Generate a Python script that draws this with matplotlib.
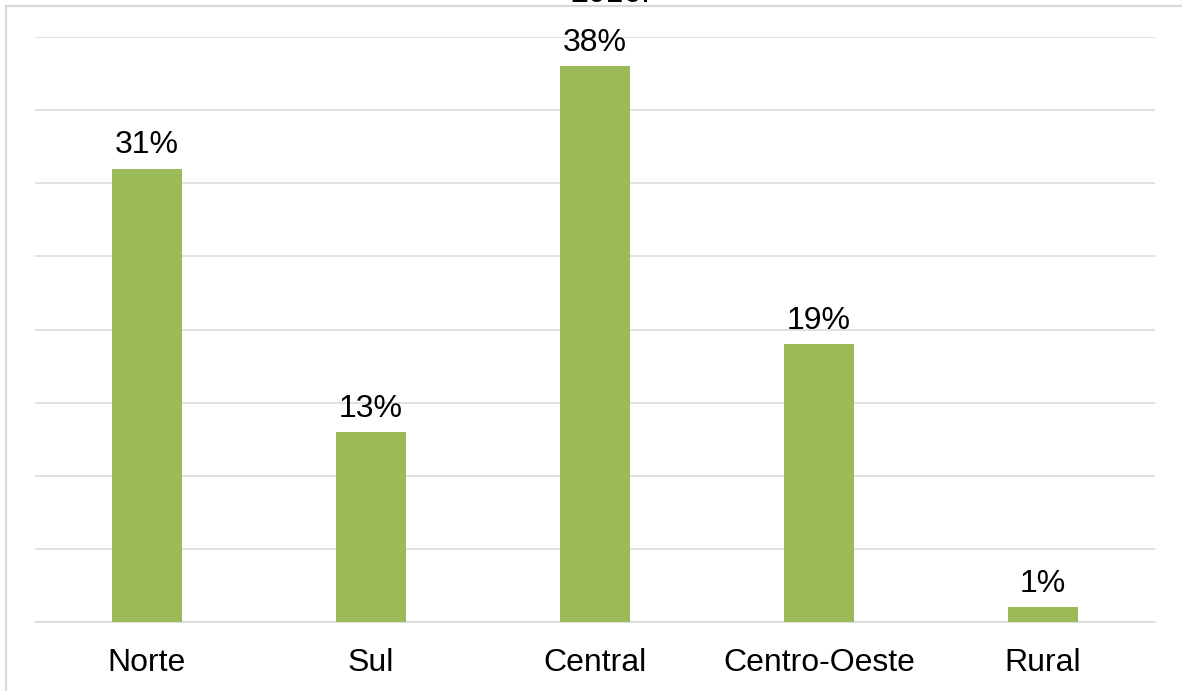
import matplotlib.pyplot as plt
from matplotlib.lines import Line2D

# Distribuição por região
regioes = ["Norte", "Sul", "Central", "Centro-Oeste", "Rural"]
percentuais = [31, 13, 38, 19, 1]
rotulos = ["31%", "13%", "38%", "19%", "1%"]

plt.rcParams['font.family'] = ['Liberation Sans', 'DejaVu Sans']

fig = plt.figure(figsize=(11.82, 6.91), dpi=100)
ax = fig.add_axes([35 / 1182, 1 - 622 / 691, 1120 / 1182, 585 / 691])

x = range(len(regioes))
ax.bar(x, percentuais, width=0.3125, color="#9BBB59", zorder=3)

for xi, v, r in zip(x, percentuais, rotulos):
    ax.annotate(r, (xi, v), xytext=(0, 11), textcoords="offset points",
                ha="center", va="baseline", fontsize=23, color="black")

ax.set_xlim(-0.5, len(regioes) - 0.5)
ax.set_ylim(0, 40)
ax.set_yticks(range(0, 41, 5))
ax.set_yticklabels([])
ax.tick_params(axis="y", length=0)
ax.grid(axis="y", color="#d9d9d9", linewidth=1.1, zorder=0)

ax.set_xticks(list(x))
ax.set_xticklabels(regioes, fontsize=23)
ax.tick_params(axis="x", length=0, pad=19)

for s in ["top", "right", "left"]:
    ax.spines[s].set_visible(False)
ax.spines["bottom"].set_color("#d9d9d9")
ax.spines["bottom"].set_linewidth(1.1)

# moldura do gráfico (recortada)
fig.add_artist(Line2D([6 / 1182, 6 / 1182], [0, 1 - 6 / 691], color="#d9d9d9", linewidth=1.6))
fig.add_artist(Line2D([6 / 1182, 1], [1 - 6 / 691, 1 - 6 / 691], color="#d9d9d9", linewidth=1.6))

# última linha do título
fig.text(610 / 1182, 1 - 2 / 691, "2016.", ha="center", va="baseline", fontsize=23)

fig.savefig("out.png", dpi=100)
